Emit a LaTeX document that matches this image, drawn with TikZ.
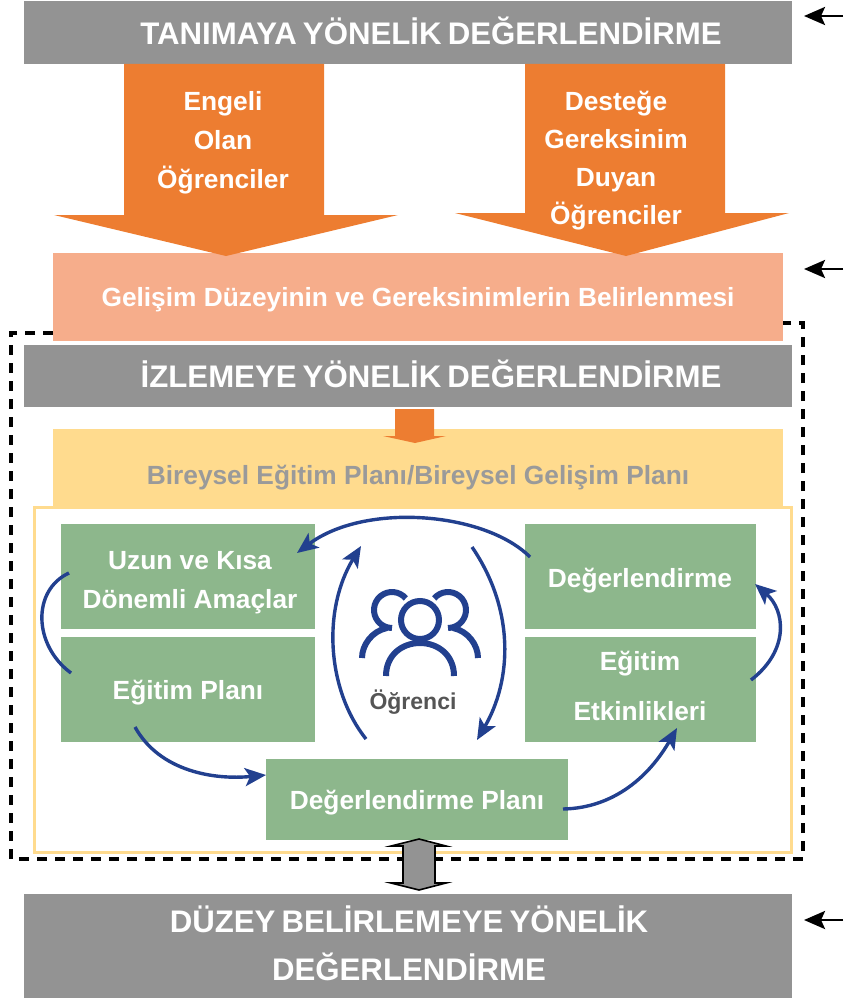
\documentclass[tikz,border=0pt]{standalone}
\usepackage{fontspec}
\setmainfont{Liberation Sans}
\newfontfamily\headf{Liberation Sans}[WordSpace=0.7]
\usetikzlibrary{arrows.meta}
\definecolor{gr}{HTML}{939393}
\definecolor{org}{HTML}{ED7D31}
\definecolor{peach}{HTML}{F6AD8B}
\definecolor{yel}{HTML}{FFDB8E}
\definecolor{grn}{HTML}{8DB78C}
\definecolor{blu}{HTML}{22408F}
\definecolor{txtg}{HTML}{9A9A9A}
\definecolor{txtd}{HTML}{555555}
\tikzset{
  box/.style={inner sep=0pt,outer sep=0pt,draw=none,anchor=north west},
  head/.style={font=\headf\bfseries\fontsize{31.2}{48}\selectfont,text=white,align=center,inner sep=0pt},
  lab/.style={font=\bfseries\fontsize{26.3}{39}\selectfont,text=white,align=center,inner sep=0pt},
  lab2/.style={font=\bfseries\fontsize{26.3}{39}\selectfont,text=white,align=center,inner sep=0pt},
  cyc/.style={draw=blu,line width=3.4pt,-{Stealth[length=21pt,width=18pt,inset=5pt]}},
  cycn/.style={draw=blu,line width=3.4pt},
  side/.style={draw=black,line width=2.8pt,-{Stealth[length=21pt,width=18pt,inset=4pt]}},
  icon/.style={draw=blu,line width=6pt}
}
\begin{document}
\begin{tikzpicture}[x=1pt,y=-1pt]
\useasboundingbox (0,0) rectangle (843,998);
% dashed frame
\draw[black,line width=3.2pt,dash pattern=on 10pt off 8pt] (53,333) -- (11,333) -- (11,859) -- (803,859) -- (803,323) -- (783,323);
% top
\node[box,fill=gr,minimum width=768pt,minimum height=63pt] (tanima) at (24,1) {};
\node[head] (tanimaT) at (431,31) {TANIMAYA YÖNELİK DEĞERLENDİRME};
\node[box,fill=peach,minimum width=730pt,minimum height=88pt] (gelisim) at (53,253) {};
\fill[org] (124,64) -- (324,64) -- (324,215) -- (398,215) -- (226,256) -- (54,215) -- (124,215) -- cycle;
\fill[org] (525,64) -- (725,64) -- (725,213) -- (789,213) -- (626,256) -- (455,213) -- (525,213) -- cycle;
\node[lab] (engel) at (223,142.5) {Engeli\\Olan\\Öğrenciler};
\node[font=\bfseries\fontsize{26.3}{38}\selectfont,text=white,align=center,inner sep=0pt] (destek) at (616,160.5) {Desteğe\\Gereksinim\\Duyan\\Öğrenciler};
\node[lab2] (gelisimT) at (418,300) {Gelişim Düzeyinin ve Gereksinimlerin Belirlenmesi};
% izleme
\node[box,fill=gr,minimum width=768pt,minimum height=62pt] (izleme) at (24,345) {};
\node[head] (izlemeT) at (431,373.5) {İZLEMEYE YÖNELİK DEĞERLENDİRME};
% yellow
\node[box,fill=yel,minimum width=730pt,minimum height=78pt] (bep) at (53,429) {};
\node[lab2,text=txtg] (bepT) at (418,478) {Bireysel Eğitim Planı/Bireysel Gelişim Planı};
\fill[org] (395,409) -- (434,409) -- (434,436) -- (446,436) -- (415,443) -- (383,436) -- (395,436) -- cycle;
\node[box,draw=yel,line width=3pt,fill=white,minimum width=757pt,minimum height=345pt] (frame) at (34,507) {};
% green
\node[box,fill=grn,minimum width=254pt,minimum height=105pt] (uzun) at (61,524) {};
\node[box,fill=grn,minimum width=254pt,minimum height=105pt] (plan) at (61,637) {};
\node[box,fill=grn,minimum width=231pt,minimum height=105pt] (deg) at (525,524) {};
\node[box,fill=grn,minimum width=231pt,minimum height=105pt] (etk) at (525,637) {};
\node[box,fill=grn,minimum width=302pt,minimum height=81pt] (dplan) at (266,759) {};
\node[lab] (uzunT) at (190,583) {Uzun ve Kısa\\Dönemli Amaçlar};
\node[lab] (planT) at (188,693) {Eğitim Planı};
\node[lab] (degT) at (640,581) {Değerlendirme};
\node[font=\bfseries\fontsize{26.3}{50}\selectfont,text=white,align=center,inner sep=0pt] (etkT) at (640,686) {Eğitim\\Etkinlikleri};
\node[lab] (dplanT) at (417,803) {Değerlendirme Planı};
% cycle arrows
\coordinate (a1) at (530,557); \coordinate (a2) at (297,553);
\draw[cyc] (a1) .. controls (485,512) and (365,502) .. (a2);
\coordinate (b1) at (69,573); \coordinate (b2) at (71,673);
\draw[cycn] (b1) .. controls (32,590) and (33,645) .. (b2);
\coordinate (c1) at (135,727); \coordinate (c2) at (266,775);
\draw[cyc] (c1) .. controls (160,772) and (215,780) .. (c2);
\coordinate (d1) at (366,739); \coordinate (d2) at (361,546);
\draw[cyc] (d1) .. controls (327,690) and (322,610) .. (d2);
\coordinate (e1) at (472,547); \coordinate (e2) at (477,740);
\draw[cyc] (e1) .. controls (515,610) and (512,680) .. (e2);
\coordinate (f1) at (563,809); \coordinate (f2) at (677,728);
\draw[cyc] (f1) .. controls (615,808) and (650,775) .. (f2);
\coordinate (g1) at (751,680); \coordinate (g2) at (755,584);
\draw[cyc] (g1) .. controls (790,650) and (785,610) .. (g2);
% icon
\draw[icon] (420,620) circle (19);
\draw[icon] (386,676) .. controls (386,655) and (402,643) .. (420,643) .. controls (438,643) and (454,655) .. (454,676);
\draw[icon] (392,610) ++(-40:18) arc[start angle=-40,end angle=-270,radius=18];
\draw[icon] (448,610) ++(-140:18) arc[start angle=-140,end angle=90,radius=18];
\draw[icon] (387,628) .. controls (372,631) and (362,645) .. (362,658);
\draw[icon] (453,628) .. controls (468,631) and (478,645) .. (478,658);
\node[font=\bfseries\fontsize{23}{24}\selectfont,text=txtd,inner sep=0pt] (ogr) at (413,702) {Öğrenci};
% bottom
\node[box,fill=gr,minimum width=768pt,minimum height=104pt] (duzey) at (24,894) {};
\node[head] (duzeyT) at (409,943.5) {DÜZEY BELİRLEMEYE YÖNELİK\\DEĞERLENDİRME};
\filldraw[fill=gr,draw=black,line width=1.6pt] (419,839) -- (446,846) -- (435,846) -- (435,883) -- (446,883) -- (419,890) -- (391,883) -- (403,883) -- (403,846) -- (391,846) -- cycle;
% side arrows
\coordinate (s1) at (843,16); \coordinate (s1e) at (804,16);
\draw[side] (s1) -- (s1e);
\coordinate (s2) at (843,269); \coordinate (s2e) at (804,269);
\draw[side] (s2) -- (s2e);
\coordinate (s3) at (843,920); \coordinate (s3e) at (804,920);
\draw[side] (s3) -- (s3e);
\end{tikzpicture}
\end{document}
